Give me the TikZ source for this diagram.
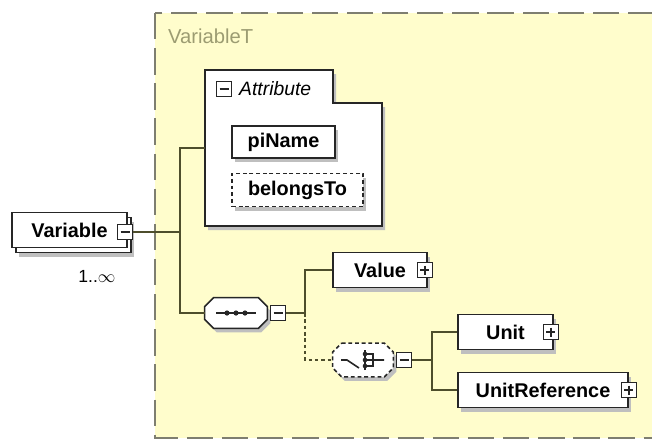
\documentclass[tikz,border=0pt]{standalone}
\usepackage{fontspec}
\setmainfont{Liberation Sans}
\usepackage{xcolor}
\usetikzlibrary{shadows}
\newlength{\px}
\setlength{\px}{0.02cm}
\definecolor{typefill}{HTML}{FFFDCC}
\definecolor{typeframe}{HTML}{7E7E70}
\definecolor{typelabel}{HTML}{9C9C72}
\definecolor{linecol}{HTML}{4E4E2C}
\tikzset{
    every node/.style={font=\fontsize{11}{13}\selectfont},
    conn/.style={draw=linecol, line width=1.2pt},
    optconn/.style={conn, dash pattern=on 2pt off 1.6pt},
    boxshadow/.style={drop shadow={shadow xshift=3\px, shadow yshift=-4\px, fill=black!25, opacity=1}},
    plainbox/.style={draw=black!85, fill=white, line width=0.9pt, inner sep=0pt,
        minimum height=35\px, font=\fontsize{11.3}{13}\selectfont\bfseries},
    elem/.style={plainbox, boxshadow},
    multielem/.style={plainbox,
        drop shadow={shadow xshift=7\px, shadow yshift=-9\px, fill=black!25, opacity=1},
        copy shadow={shadow xshift=4\px, shadow yshift=-5\px, draw=black!85, fill=white}},
    optional/.style={dash pattern=on 2.2pt off 1.6pt},
    compline/.style={draw=black!85, fill=white, line width=0.9pt},
    compositor/.style={inner sep=0pt},
    minusbox/.style={draw=black!85, fill=white, line width=0.8pt, minimum size=15\px, inner sep=0pt,
        path picture={\draw[black!85, line width=0.8pt]
            ([xshift=3\px]path picture bounding box.west) -- ([xshift=-3\px]path picture bounding box.east);}},
    plusbox/.style={draw=black!85, fill=white, line width=0.8pt, minimum size=15\px, inner sep=0pt,
        path picture={\draw[black!85, line width=0.8pt]
            ([xshift=3\px]path picture bounding box.west) -- ([xshift=-3\px]path picture bounding box.east)
            ([yshift=-3\px]path picture bounding box.north) -- ([yshift=3\px]path picture bounding box.south);}}
}
% octagon round a compositor node
\newcommand{\compframe}[2][]{%
    \draw[compline, boxshadow, #1]
        ([xshift=9\px]#2.north west) -- ([xshift=-9\px]#2.north east) -- ([yshift=-9\px]#2.north east)
        -- ([yshift=9\px]#2.south east) -- ([xshift=-9\px]#2.south east) -- ([xshift=9\px]#2.south west)
        -- ([yshift=9\px]#2.south west) -- ([yshift=-9\px]#2.north west) -- cycle;}
\begin{document}
\begin{tikzpicture}[x=\px, y=-\px]
    \useasboundingbox (0,0) rectangle (652,441);

    % Complex type frame
    \draw[typeframe, fill=typefill, line width=1.2pt, dash pattern=on 15pt off 5pt] (155,13) rectangle (700,438);
    \node[anchor=west, text=typelabel, font=\fontsize{11.5}{13}\selectfont] (typename) at (162,36) {VariableT};

    % Root element
    \node[multielem, minimum width=115\px] (var) at (69.5,230) {Variable\hspace{10\px}};
    \node[minusbox] (varx) at (125,232) {};
    \node[font=\fontsize{10}{12}\selectfont] (varocc) at (97,276) {1..$\infty$};

    % Attributes
    \draw[compline, boxshadow]
        (205,70) -- (333,70) -- (333,103) -- (382,103) -- (382,226) -- (205,226) -- cycle;
    \coordinate (attr) at (205,148);
    \node[minusbox] (attrx) at (224,89) {};
    \node[anchor=west, font=\fontsize{11}{13}\selectfont\itshape] (attrlabel) at (233,89) {Attribute};
    \node[elem, minimum width=103\px, minimum height=32\px] (piname) at (283.5,142) {piName};
    \node[elem, optional, minimum width=131\px, minimum height=33\px] (belongs) at (297.5,190) {belongsTo};

    % Sequence
    \node[compositor, minimum width=62\px, minimum height=30\px] (seq) at (236,313) {};
    \compframe{seq}
    \draw[black!85, line width=0.9pt] ([xshift=-20\px]seq.center) -- ([xshift=20\px]seq.center);
    \foreach \d in {-9,0,9} {
        \fill[black!85] ([xshift=\d\px]seq.center) circle (2.6\px);
    }
    \node[minusbox] (seqx) at (278,313) {};

    \node[elem, minimum width=94\px] (value) at (380,270) {Value\hspace{8\px}};
    \node[plusbox] (valuex) at ([xshift=-3\px]value.east) {};

    % Choice
    \node[compositor, minimum width=60\px, minimum height=33\px] (choice) at (363,360) {};
    \compframe[optional]{choice}
    \draw[black!85, line width=0.9pt]
        ([xshift=-22\px]choice.center) -- ([xshift=-16\px]choice.center) -- ([xshift=-4\px,yshift=-8\px]choice.center)
        ([xshift=2\px,yshift=-6\px]choice.center) -- ([xshift=10\px,yshift=-6\px]choice.center)
        -- ([xshift=10\px,yshift=6\px]choice.center) -- ([xshift=2\px,yshift=6\px]choice.center)
        ([xshift=2\px]choice.center) -- ([xshift=21\px]choice.center);
    \draw[black!85, line width=1.4pt] ([xshift=2\px,yshift=-10\px]choice.center) -- ([xshift=2\px,yshift=10\px]choice.center);
    \foreach \d in {-6,0,6} {
        \fill[black!85] ([xshift=2\px,yshift=\d\px]choice.center) circle (2.3\px);
    }
    \node[minusbox] (choicex) at (404,360) {};

    \node[elem, minimum width=95\px] (unit) at (505.5,332) {Unit\hspace{22\px}};
    \node[plusbox] (unitx) at ([xshift=-3\px]unit.east) {};
    \node[elem, minimum width=170\px] (unitref) at (543,390) {UnitReference\hspace{14\px}};
    \node[plusbox] (unitrefx) at (unitref.east) {};

    % Connectors
    \coordinate (j1) at (180,232);
    \coordinate (j2) at (305,313);
    \coordinate (j3) at (432,360);
    \draw[conn] (varx.east) -- (j1);
    \draw[conn] (j1) |- (attr);
    \draw[conn] (j1) |- (seq.west);
    \draw[conn] (seqx.east) -- (j2);
    \draw[conn] (j2) |- (value.west);
    \draw[optconn] (j2) |- (choice.west);
    \draw[conn] (choicex.east) -- (j3);
    \draw[conn] (j3) |- (unit.west);
    \draw[conn] (j3) |- (unitref.west);
\end{tikzpicture}
\end{document}
